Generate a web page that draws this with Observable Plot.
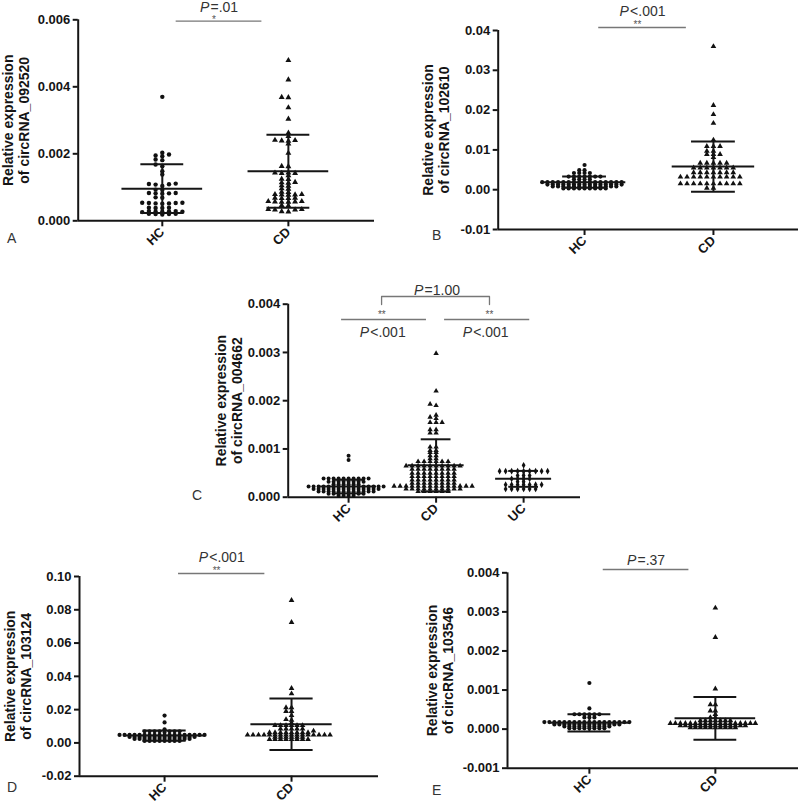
<!DOCTYPE html>
<html><head><meta charset="utf-8">
<script src="https://cdn.jsdelivr.net/npm/d3@7"></script>
<script src="https://cdn.jsdelivr.net/npm/@observablehq/plot@0.6"></script>
<style>
body{margin:0;background:#fff;}
#root{position:relative;width:800px;height:807px;overflow:hidden;background:#fff;font-family:"Liberation Sans",Arial,Helvetica,sans-serif;}
.panel{position:absolute;}
.letter{position:absolute;font-size:14px;line-height:16px;color:#333;}
</style></head><body><div id="root"></div>
<script>
// ---------- DATA ----------
// Panel A: circRNA_092520
const A_groups = ["HC", "CD"];
const A_HC = [0.00370, 0.00203, 0.00198, 0.00195, 0.00193, 0.00183, 0.00181, 0.00168, 0.00163, 0.00148, 0.00138,
  0.00111, 0.00110, 0.00109, 0.00108, 0.00104, 0.00093, 0.00092, 0.00083, 0.00083, 0.00082, 0.00082, 0.00081,
  0.00070, 0.00069, 0.00054, 0.00054, 0.00053, 0.00053, 0.00052, 0.00052, 0.00051, 0.00039, 0.00039, 0.00038, 0.00038,
  0.00029, 0.00029, 0.00028, 0.00028, 0.00027, 0.00027, 0.00026, 0.00021, 0.00021, 0.00020, 0.00020, 0.00019];
const A_CD = [0.00479, 0.00421, 0.00369, 0.00368, 0.00338, 0.00304, 0.00262, 0.00252, 0.00241, 0.00240, 0.00239, 0.00238,
  0.00230, 0.00202, 0.00163, 0.00162, 0.00143, 0.00143, 0.00142, 0.00142, 0.00135, 0.00125, 0.00124, 0.00115, 0.00114,
  0.00113, 0.00105, 0.00104, 0.00096, 0.00095, 0.00086, 0.00085, 0.00079, 0.00079, 0.00078, 0.00078, 0.00077, 0.00068,
  0.00068, 0.00067, 0.00067, 0.00058, 0.00058, 0.00057, 0.00057, 0.00056, 0.00056, 0.00046, 0.00045, 0.00034, 0.00034,
  0.00033, 0.00033, 0.00028, 0.00027];
const A_mean = [0.00096, 0.00148];
const A_sd = [0.00073, 0.00109];
const A_ticks = [0, 0.002, 0.004, 0.006];
const A_title = "Relative expression\nof circRNA_092520";
const A_p = "=.01", A_star = "*";

// Panel B: circRNA_102610
const B_groups = ["HC", "CD"];
const B_HC = [0.0062, 0.0049, 0.0049, 0.0042, 0.0042, 0.0042, 0.0042,
  0.0033, 0.0033, 0.0033, 0.0033, 0.0033, 0.0033, 0.0033, 0.0026, 0.0026, 0.0026, 0.0026,
  0.0019, 0.0019, 0.0019, 0.0019, 0.0019, 0.0019, 0.0019, 0.0019, 0.0019, 0.0019, 0.0019, 0.0019, 0.0019, 0.0019, 0.0019, 0.0019,
  0.0013, 0.0013, 0.0013, 0.0013, 0.0013, 0.0013, 0.0013, 0.0013, 0.0013, 0.0013, 0.0013, 0.0013, 0.0013, 0.0013, 0.0013,
  0.0008, 0.0008, 0.0008, 0.0008, 0.0008, 0.0008, 0.0008, 0.0008, 0.0008, 0.0008, 0.0008, 0.0008, 0.0008,
  0.0003, 0.0003, 0.0003, 0.0003, 0.0003, 0.0003, 0.0003, 0.0003, 0.0003];
const B_CD = [0.0360, 0.0212, 0.0189, 0.0167, 0.0125, 0.0109, 0.0109, 0.0109, 0.0097, 0.0097, 0.0089, 0.0089, 0.0089, 0.0081,
  0.0067, 0.0067, 0.0067, 0.0067, 0.0067, 0.0055, 0.0055, 0.0055, 0.0055, 0.0055, 0.0055, 0.0055,
  0.0043, 0.0043, 0.0043, 0.0043, 0.0043, 0.0043, 0.0043,
  0.0032, 0.0032, 0.0032, 0.0032, 0.0032, 0.0032, 0.0032, 0.0032, 0.0032, 0.0032,
  0.0015, 0.0015, 0.0015, 0.0015, 0.0015, 0.0015, 0.0015, 0.0015, 0.0015, 0.0015, 0.0004, 0.0004];
const B_mean = [0.0019, 0.0058];
const B_sd = [0.0014, 0.0063];
const B_ticks = [-0.01, 0, 0.01, 0.02, 0.03, 0.04];
const B_title = "Relative expression\nof circRNA_102610";
const B_p = "<.001", B_star = "**";

// Panel C: circRNA_004662
const C_groups = ["HC", "CD", "UC"];
const C_HC = [0.00086, 0.00077,
  0.00039, 0.00039, 0.00039, 0.00039, 0.00039, 0.00039, 0.00039, 0.00039, 0.00039, 0.00039,
  0.00032, 0.00032, 0.00032, 0.00032, 0.00032, 0.00032, 0.00032, 0.00032,
  0.00027, 0.00027, 0.00027, 0.00027, 0.00027, 0.00027,
  0.00022, 0.00022, 0.00022, 0.00022, 0.00022, 0.00022, 0.00022, 0.00022, 0.00022, 0.00022, 0.00022, 0.00022, 0.00022, 0.00022, 0.00022, 0.00022,
  0.00017, 0.00017, 0.00017, 0.00017, 0.00017, 0.00017, 0.00017, 0.00017, 0.00017, 0.00017, 0.00017, 0.00017, 0.00017, 0.00017,
  0.00012, 0.00012, 0.00012, 0.00012, 0.00012, 0.00012, 0.00012, 0.00012, 0.00012, 0.00012, 0.00012, 0.00012,
  0.00007, 0.00007, 0.00007, 0.00007, 0.00007, 0.00007, 0.00007, 0.00007,
  0.00003, 0.00003, 0.00003, 0.00003];
const C_CD = [0.00298, 0.00220, 0.00193, 0.00190, 0.00170, 0.00166, 0.00163, 0.00155, 0.00155, 0.00155,
  0.00140, 0.00140, 0.00133, 0.00133, 0.00104, 0.00104, 0.00097, 0.00097, 0.00093, 0.00093, 0.00086, 0.00086, 0.00080, 0.00080,
  0.00074, 0.00074, 0.00074, 0.00074, 0.00074, 0.00074,
  0.00065, 0.00065, 0.00065, 0.00065, 0.00065, 0.00065, 0.00065, 0.00065, 0.00065, 0.00065,
  0.00058, 0.00058, 0.00058, 0.00058, 0.00058, 0.00058, 0.00058, 0.00058,
  0.00050, 0.00050, 0.00050, 0.00050, 0.00050, 0.00050, 0.00050, 0.00050,
  0.00043, 0.00043, 0.00043, 0.00043, 0.00043, 0.00043, 0.00043, 0.00043,
  0.00036, 0.00036, 0.00036, 0.00036, 0.00036, 0.00036, 0.00036, 0.00036,
  0.00029, 0.00029, 0.00029, 0.00029, 0.00029, 0.00029, 0.00029, 0.00029,
  0.00023, 0.00023, 0.00023, 0.00023, 0.00023, 0.00023, 0.00023, 0.00023, 0.00023, 0.00023, 0.00023, 0.00023, 0.00023, 0.00023,
  0.00017, 0.00017, 0.00017, 0.00017, 0.00017, 0.00017, 0.00017, 0.00017, 0.00017, 0.00017,
  0.00012, 0.00012, 0.00012, 0.00012, 0.00012, 0.00012];
const C_UC = [0.00066, 0.00054, 0.00054, 0.00054, 0.00054, 0.00054, 0.00054, 0.00054, 0.00054, 0.00054,
  0.00045, 0.00045, 0.00045, 0.00038, 0.00038, 0.00038, 0.00038, 0.00032, 0.00032,
  0.00026, 0.00026, 0.00026, 0.00026, 0.00026, 0.00026, 0.00026,
  0.00017, 0.00017, 0.00017, 0.00017, 0.00017, 0.00017];
const C_mean = [0.00022, 0.00066, 0.00038];
const C_sd = [0.00014, 0.00054, 0.000165];
const C_ticks = [0, 0.001, 0.002, 0.003, 0.004];
const C_title = "Relative expression\nof circRNA_004662";
const C_pLeft = "<.001", C_pRight = "<.001", C_pTop = "=1.00", C_star = "**";

// Panel D: circRNA_103124
const D_groups = ["HC", "CD"];
const D_HC = [0.0164, 0.0123, 0.0082, 0.0066,
  0.0070, 0.0070, 0.0070, 0.0070, 0.0070, 0.0070, 0.0070,
  0.0048, 0.0048, 0.0048, 0.0048, 0.0048, 0.0048, 0.0048, 0.0048, 0.0048, 0.0048, 0.0048, 0.0048, 0.0048, 0.0048, 0.0048, 0.0048, 0.0048, 0.0048,
  0.0036, 0.0036, 0.0036, 0.0036, 0.0036, 0.0036, 0.0036, 0.0036, 0.0036, 0.0036, 0.0036, 0.0036, 0.0036, 0.0036,
  0.0024, 0.0024, 0.0024, 0.0024, 0.0024, 0.0024, 0.0024, 0.0024, 0.0024, 0.0024, 0.0024, 0.0024,
  0.0012, 0.0012, 0.0012, 0.0012, 0.0012, 0.0012, 0.0012, 0.0012];
const D_CD = [0.0857, 0.0725, 0.0328, 0.0296, 0.0212, 0.0212, 0.0190, 0.0190, 0.0165, 0.0141, 0.0137, 0.0120,
  0.0105, 0.0105, 0.0105, 0.0105, 0.0105, 0.0105, 0.0085, 0.0085, 0.0085, 0.0085, 0.0085, 0.0072,
  0.0062, 0.0062, 0.0062, 0.0062, 0.0062, 0.0062, 0.0062, 0.0062,
  0.0048, 0.0048, 0.0048, 0.0048, 0.0048, 0.0048, 0.0048, 0.0048, 0.0048, 0.0048, 0.0048, 0.0048, 0.0048, 0.0048, 0.0048, 0.0048,
  0.0035, 0.0035, 0.0035, 0.0035, 0.0035, 0.0035,
  0.0022, 0.0022, 0.0022, 0.0022, 0.0022, 0.0022, 0.0022, 0.0022];
const D_mean = [0.0044, 0.0112];
const D_sd = [0.0031, 0.0155];
const D_ticks = [-0.02, 0, 0.02, 0.04, 0.06, 0.08, 0.10];
const D_title = "Relative expression\nof circRNA_103124";
const D_p = "<.001", D_star = "**";

// Panel E: circRNA_103546
const E_groups = ["HC", "CD"];
const E_HC = [0.00118, 0.00053, 0.00038, 0.00038, 0.00038, 0.00038, 0.00038, 0.00038, 0.00030, 0.00030, 0.00030,
  0.00018, 0.00018, 0.00018, 0.00018, 0.00018, 0.00018, 0.00018, 0.00018, 0.00018, 0.00018, 0.00018, 0.00018, 0.00018, 0.00018, 0.00018, 0.00018, 0.00018, 0.00018,
  0.00012, 0.00012, 0.00012, 0.00012, 0.00012, 0.00012, 0.00012, 0.00012, 0.00012, 0.00012, 0.00012, 0.00012, 0.00012, 0.00012,
  0.00007, 0.00007, 0.00007, 0.00007, 0.00007, 0.00007, 0.00007, 0.00007, 0.00007, 0.00007,
  0.00002, 0.00002, 0.00002, 0.00002, 0.00002, 0.00002, 0.00002, 0.00002];
const E_CD = [0.00310, 0.00235, 0.00103, 0.00063, 0.00063, 0.00047, 0.00047, 0.00038, 0.00030, 0.00030,
  0.00022, 0.00022, 0.00022, 0.00022, 0.00022, 0.00022, 0.00022,
  0.00015, 0.00015, 0.00015, 0.00015, 0.00015, 0.00015, 0.00015, 0.00015, 0.00015, 0.00015, 0.00015, 0.00015, 0.00015, 0.00015, 0.00015, 0.00015, 0.00015, 0.00015,
  0.00009, 0.00009, 0.00009, 0.00009, 0.00009, 0.00009, 0.00009, 0.00009, 0.00009, 0.00009, 0.00009, 0.00009, 0.00009, 0.00009,
  0.00004, 0.00004, 0.00004, 0.00004, 0.00004, 0.00004, 0.00004, 0.00004, 0.00004, 0.00004];
const E_mean = [0.00016, 0.000275];
const E_sd = [0.00022, 0.000545];
const E_ticks = [-0.001, 0, 0.001, 0.002, 0.003, 0.004];
const E_title = "Relative expression\nof circRNA_103546";
const E_p = "=.37";

const panelLetters = ["A", "B", "C", "D", "E"];

// ---------- RENDERING ----------
const FONT = '"Liberation Sans", Arial, Helvetica, sans-serif';
const SYM = {HC: "circle", CD: "triangle", UC: "diamond"};
const ctx = document.createElement("canvas").getContext("2d");
function tw(s, style) { ctx.font = `${style} 14px ${FONT}`; return ctx.measureText(s).width; }

// GraphPad-like scatter layout: points keep their value, spread sideways to avoid overlap
function swarm(values, gi, pyv, pxu, spacing, vGap) {
  const placed = [], out = [];
  const sorted = values.slice().sort((a, b) => a - b);
  for (const v of sorted) {
    const py = v * pyv;
    let off = 0;
    for (let k = 0; k < 400; k++) {
      const cand = (k % 2 === 1 ? -1 : 1) * Math.ceil(k / 2) * spacing;
      const hit = placed.some(p => Math.abs(p.py - py) < vGap && Math.abs(p.ox - cand) < spacing * 0.999);
      if (!hit) { off = cand; break; }
    }
    placed.push({py, ox: off});
    out.push({x: gi + off / pxu, y: v});
  }
  return out;
}

function pText(rest, x, y, dy) {
  const wP = tw("P", "italic"), wR = tw(rest, "normal");
  const off = wP - (wP + wR) / 2;
  return [
    Plot.text(["P"], {x, y, dy, dx: off - 0.6, text: d => d, textAnchor: "end", fontStyle: "italic", fontWeight: "normal", fontSize: 14, fill: "#333"}),
    Plot.text([rest], {x, y, dy, dx: off + 0.6, text: d => d, textAnchor: "start", fontWeight: "normal", fontSize: 14, fill: "#333"})
  ];
}
function stars(s, x, y, dy) {
  return Plot.text([s], {x, y, dy, text: d => d, fontSize: 10, fontWeight: "normal", fill: "#555"});
}
function sigLine(x1, x2, y, dy) {
  return Plot.ruleY([y], {x1, x2, dy, stroke: "#777", strokeWidth: 1.3});
}
function twoGroupAnnot(p, starText, lineDy, starDy, pDy) {
  return (yMax) => {
    const m = [sigLine(0.11, 0.79, yMax, lineDy), ...pText(p, 0.45, yMax, pDy)];
    if (starText) m.push(stars(starText, 0.41, yMax, starDy));
    return m;
  };
}

const panels = [
  {left: 0, top: 0, W: 400, H: 265, mL: 77.7, mR: 26, mT: 19.3, mB: 44.7,
   groups: A_groups, values: [A_HC, A_CD], means: A_mean, sds: A_sd, yDomain: [0, 0.006], ticks: A_ticks, dec: 3,
   xDomain: [-0.667, 1.683], spacing: [6.7, 6.7], vGap: 2.5, r: 2.2, title: A_title, titleDx: -62,
   annot: twoGroupAnnot(A_p, A_star, 1.4, 0.4, -12.2), letter: [7, 230]},
  {left: 400, top: 0, W: 400, H: 265, mL: 97.7, mR: 2, mT: 30, mB: 36,
   groups: B_groups, values: [B_HC, B_CD], means: B_mean, sds: B_sd, yDomain: [-0.01, 0.04], ticks: B_ticks, dec: 2,
   xDomain: [-0.67, 1.66], spacing: [5.3, 6.6], vGap: 1.8, r: 2.1, title: B_title, titleDx: -62,
   annot: twoGroupAnnot(B_p, B_star, -3, -5.3, -18.5), letter: [432, 227]},
  {left: 190, top: 265, W: 410, H: 275, mL: 97.7, mR: 20, mT: 38.7, mB: 43.3,
   groups: C_groups, values: [C_HC, C_CD, C_UC], means: C_mean, sds: C_sd, yDomain: [0, 0.004], ticks: C_ticks, dec: 3,
   xDomain: [-0.69, 2.65], spacing: [5, 6, 6], vGap: 1.8, r: 2.0, title: C_title, titleDx: -59,
   annot: (yMax, pyv) => {
     const yBr = yMax + 7.7 / pyv, yLeg = yMax - 0.3 / pyv;
     return [
       sigLine(-0.08, 0.89, yMax, 15.3), sigLine(1.097, 2.07, yMax, 15.3),
       stars(C_star, 0.38, yMax, 10.5), stars(C_star, 1.61, yMax, 10.5),
       ...pText(C_pLeft, 0.39, yMax, 28), ...pText(C_pRight, 1.566, yMax, 28),
       Plot.line([{x: 0.377, y: yLeg}, {x: 0.377, y: yBr}, {x: 1.61, y: yBr}, {x: 1.61, y: yLeg}],
         {x: "x", y: "y", stroke: "#777", strokeWidth: 1.3}),
       ...pText(C_pTop, 1.01, yMax, -14)
     ];
   }, letter: [192, 487]},
  {left: 0, top: 540, W: 400, H: 267, mL: 79, mR: 22, mT: 36, mB: 31.3,
   groups: D_groups, values: [D_HC, D_CD], means: D_mean, sds: D_sd, yDomain: [-0.02, 0.10], ticks: D_ticks, dec: 2,
   xDomain: [-0.67, 1.685], spacing: [5, 5.5], vGap: 1.8, r: 2.1, title: D_title, titleDx: -61.5,
   annot: twoGroupAnnot(D_p, D_star, -3, -5.3, -18.5), letter: [7, 779]},
  {left: 400, top: 540, W: 400, H: 267, mL: 107, mR: 2, mT: 32.3, mB: 39.3,
   groups: E_groups, values: [E_HC, E_CD], means: E_mean, sds: E_sd, yDomain: [-0.001, 0.004], ticks: E_ticks, dec: 3,
   xDomain: [-0.65, 1.66], spacing: [5, 5], vGap: 1.8, r: 2.1, title: E_title, titleDx: -68,
   annot: twoGroupAnnot(E_p, null, -3.3, 0, -12), letter: [432, 782]}
];

const root = document.getElementById("root");
panels.forEach((p, pi) => {
  const pyv = (p.H - p.mT - p.mB) / (p.yDomain[1] - p.yDomain[0]);
  const pxu = (p.W - p.mL - p.mR) / (p.xDomain[1] - p.xDomain[0]);
  const yMax = p.yDomain[1];
  const ink = "#151515";
  const marks = [
    Plot.ruleX([p.xDomain[0]], {y1: p.yDomain[0], y2: p.yDomain[1], stroke: ink, strokeWidth: 2}),
    Plot.ruleY([p.yDomain[0]], {x1: p.xDomain[0], x2: p.xDomain[1], stroke: ink, strokeWidth: 2}),
    Plot.axisY({ticks: p.ticks, tickFormat: d => d.toFixed(p.dec), tickSize: 5, tickPadding: 3, strokeWidth: 2,
      stroke: ink, fill: ink, label: null, fontSize: 13, fontWeight: "bold"}),
    Plot.axisX({ticks: p.groups.map((g, i) => i), tickFormat: i => p.groups[i], tickRotate: -45, tickSize: 6,
      tickPadding: 3, strokeWidth: 2, stroke: ink, fill: ink, label: null, fontSize: 13, fontWeight: "bold"})
  ];
  p.groups.forEach((g, i) => {
    const pts = swarm(p.values[i], i, pyv, pxu, p.spacing[i], p.vGap);
    marks.push(Plot.dot(pts, {x: "x", y: "y", r: p.r, symbol: SYM[g], fill: "#111", stroke: "none"}));
  });
  const stats = p.groups.map((g, i) => ({i, m: p.means[i], lo: p.means[i] - p.sds[i], hi: p.means[i] + p.sds[i]}));
  marks.push(
    Plot.ruleX(stats, {x: "i", y1: "lo", y2: "hi", stroke: ink, strokeWidth: 2}),
    Plot.ruleY(stats, {y: "m", x1: d => d.i - 0.32, x2: d => d.i + 0.32, stroke: ink, strokeWidth: 2}),
    Plot.ruleY(stats, {y: "hi", x1: d => d.i - 0.17, x2: d => d.i + 0.17, stroke: ink, strokeWidth: 2}),
    Plot.ruleY(stats, {y: "lo", x1: d => d.i - 0.17, x2: d => d.i + 0.17, stroke: ink, strokeWidth: 2}),
    Plot.text([p.title], {frameAnchor: "left", textAnchor: "middle", rotate: -90, dx: p.titleDx, text: d => d, fontSize: 14,
      fontWeight: "bold", lineHeight: 1.15, fill: ink}),
    ...p.annot(yMax, pyv)
  );
  const svg = Plot.plot({
    width: p.W, height: p.H, marginLeft: p.mL, marginRight: p.mR, marginTop: p.mT, marginBottom: p.mB,
    x: {domain: p.xDomain}, y: {domain: p.yDomain},
    style: {background: "transparent", fontFamily: FONT, fontSize: "13px", fontWeight: "bold", color: ink, overflow: "visible"},
    marks
  });
  const wrap = document.createElement("div");
  wrap.className = "panel";
  wrap.style.left = p.left + "px";
  wrap.style.top = p.top + "px";
  wrap.appendChild(svg);
  root.appendChild(wrap);
  const lt = document.createElement("div");
  lt.className = "letter";
  lt.textContent = panelLetters[pi];
  lt.style.left = p.letter[0] + "px";
  lt.style.top = p.letter[1] + "px";
  root.appendChild(lt);
});
</script></body></html>
